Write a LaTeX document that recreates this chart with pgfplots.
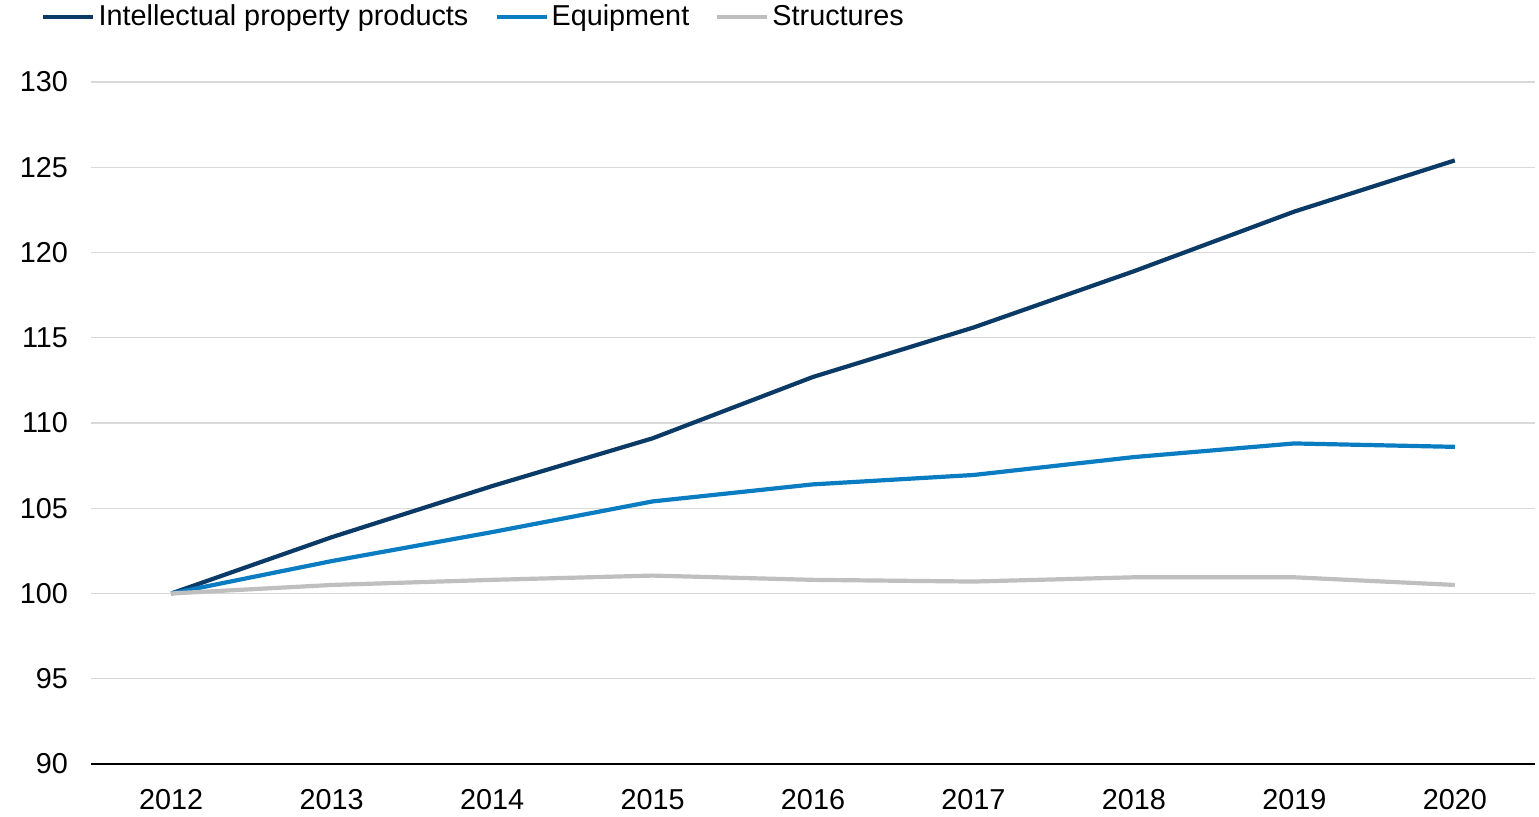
\documentclass[border=0pt]{standalone}
\usepackage{pgfplots}
\pgfplotsset{compat=1.18}
\usepackage{fontspec}
\setmainfont{Liberation Sans}
\definecolor{ipc}{HTML}{0B3A66}
\definecolor{eqc}{HTML}{0A7CC1}
\definecolor{stc}{HTML}{BFBFBF}
\definecolor{gridc}{HTML}{D9D9D9}
\begin{document}
\begin{tikzpicture}
\begin{axis}[
  name=ax,
  scale only axis,
  width=722pt, height=341pt,
  xmin=2011.5, xmax=2020.5,
  ymin=90, ymax=130,
  xtick={2012,2013,2014,2015,2016,2017,2018,2019,2020},
  ytick={90,95,100,105,110,115,120,125,130},
  /pgf/number format/assume math mode=true,
  x tick label style={/pgf/number format/1000 sep={}, yshift=-9pt},
  y tick label style={xshift=-8pt},
  tick style={draw=none},
  axis x line*=bottom,
  axis y line*=left,
  y axis line style={draw=none},
  x axis line style={black, line width=1.1pt, -},
  ymajorgrids,
  grid style={gridc, line width=0.6pt},
  ticklabel style={font=\fontsize{14.4}{17}\selectfont},
  legend style={
    at={(axis description cs:0,1)}, anchor=west,
    xshift=-25pt, yshift=32.5pt,
    draw=none, fill=none, inner sep=0pt,
    font=\fontsize{14.4}{17}\selectfont,
    nodes={inner xsep=1.5pt},
    legend columns=3,
    /tikz/every even column/.append style={column sep=11.5pt},
    /tikz/every odd column/.append style={column sep=0pt},
  },
  legend cell align=left,
  legend image code/.code={\draw[#1, line width=2.1pt] (0pt,0pt) -- (25pt,0pt);},
]
\addplot[ipc, line width=2.1pt] coordinates {
(2012,100) (2013,103.3) (2014,106.3) (2015,109.1) (2016,112.7) (2017,115.6) (2018,118.9) (2019,122.4) (2020,125.4)};
\addlegendentry{Intellectual property products}
\addplot[eqc, line width=2.1pt] coordinates {
(2012,100) (2013,101.9) (2014,103.6) (2015,105.4) (2016,106.4) (2017,106.95) (2018,108.0) (2019,108.8) (2020,108.6)};
\addlegendentry{Equipment}
\addplot[stc, line width=2.1pt] coordinates {
(2012,100) (2013,100.5) (2014,100.8) (2015,101.05) (2016,100.8) (2017,100.7) (2018,100.95) (2019,100.95) (2020,100.5)};
\addlegendentry{Structures}
\end{axis}
\path (ax.south west) ++(-45.5pt,-25.5pt) coordinate (bl);
\path (ax.north east) ++(2pt,41pt) coordinate (tr);
\useasboundingbox (bl) rectangle (tr);
\end{tikzpicture}
\end{document}
